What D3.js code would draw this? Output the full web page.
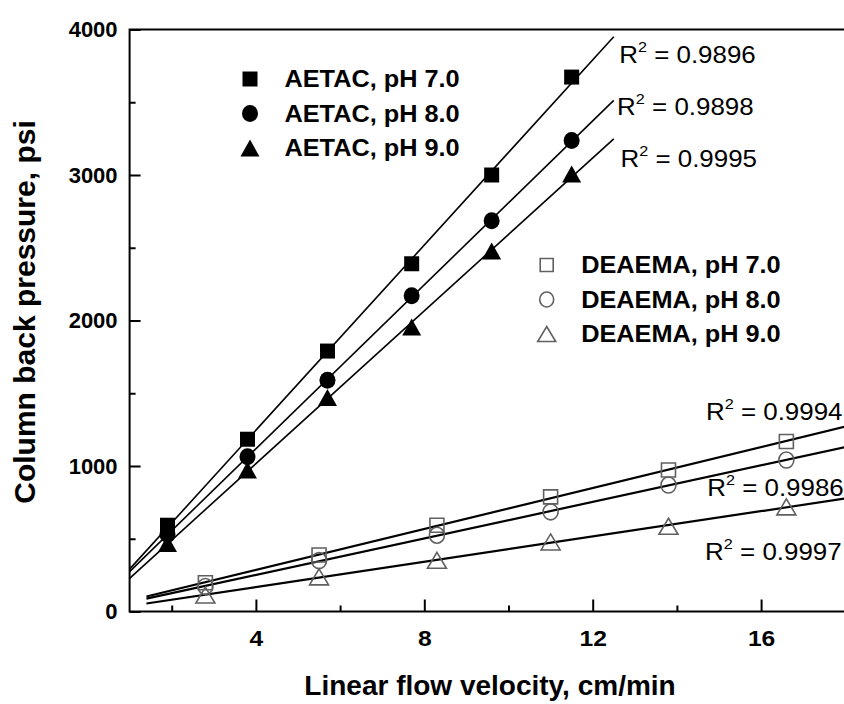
<!DOCTYPE html>
<html><head><meta charset="utf-8">
<script src="https://cdn.jsdelivr.net/npm/d3@7/dist/d3.min.js"></script>
<style>body{margin:0;background:#fff}svg{display:block}</style>
</head><body>
<svg id="chart" width="844" height="704"></svg>
<script>
// ---- data ----
const aetacX = [1.9, 3.8, 5.7, 7.7, 9.6, 11.5];
const deaemaX = [2.8, 5.5, 8.3, 11.0, 13.8, 16.6];
const aetacPH7 = [593, 1184, 1790, 2390, 3000, 3673];
const aetacPH8 = [530, 1064, 1590, 2170, 2685, 3237];
const aetacPH9 = [467, 972, 1470, 1955, 2478, 3007];
const deaemaPH7 = [198, 388, 593, 788, 972, 1168];
const deaemaPH8 = [172, 350, 524, 685, 869, 1041];
const deaemaPH9 = [113, 238, 352, 478, 586, 719];
const aetacNames = ["AETAC, pH 7.0", "AETAC, pH 8.0", "AETAC, pH 9.0"];
const deaemaNames = ["DEAEMA, pH 7.0", "DEAEMA, pH 8.0", "DEAEMA, pH 9.0"];
const r2Values = ["0.9896", "0.9898", "0.9995", "0.9994", "0.9986", "0.9997"];
const fitRangeAETAC = [1.0, 12.5];
const fitRangeDEAEMA = [1.4, 18.6];
const xTickValues = [4, 8, 12, 16];
const xMinorValues = [2, 6, 10, 14, 18];
const yTickValues = [0, 1000, 2000, 3000, 4000];
const yMinorValues = [500, 1500, 2500, 3500];
const xTitle = "Linear flow velocity, cm/min";
const yTitle = "Column back pressure, psi";
// R² label anchors, in data units (x start, baseline)
const r2AnchorX = [12.63, 12.58, 12.66, 14.69, 14.72, 14.67];
const r2AnchorY = [3768, 3412, 3057, 1316, 794, 354];

// ---- layout ----
const FONT = "'Liberation Sans', Arial, Helvetica, sans-serif";
const svg = d3.select("#chart");
svg.append("rect").attr("width", 844).attr("height", 704).attr("fill", "#fff");
const x = d3.scaleLinear().domain([1, 18]).range([129.6, 845.3]);
const y = d3.scaleLinear().domain([0, 4000]).range([611.5, 29.5]);

// frame
svg.append("rect")
  .attr("x", x(1)).attr("y", y(4000))
  .attr("width", x(18) - x(1)).attr("height", y(0) - y(4000))
  .attr("fill", "none").attr("stroke", "#000").attr("stroke-width", 2);

// axes
const yAxis = svg.append("g").attr("transform", `translate(${x(1)},0)`)
  .call(d3.axisLeft(y).tickValues(yTickValues).tickSize(-11).tickPadding(12).tickFormat(d3.format("d")));
const yMinor = svg.append("g").attr("transform", `translate(${x(1)},0)`)
  .call(d3.axisLeft(y).tickValues(yMinorValues).tickSize(-6).tickFormat(""));
const xAxis = svg.append("g").attr("transform", `translate(0,${y(0)})`)
  .call(d3.axisBottom(x).tickValues(xTickValues).tickSize(-12).tickPadding(19));
const xMinor = svg.append("g").attr("transform", `translate(0,${y(0)})`)
  .call(d3.axisBottom(x).tickValues(xMinorValues).tickSize(-6).tickFormat(""));
[yAxis, yMinor, xAxis, xMinor].forEach(g => {
  g.select(".domain").remove();
  g.selectAll(".tick line").attr("stroke", "#000").attr("stroke-width", 2);
});
yAxis.selectAll(".tick text").attr("font-family", FONT).attr("font-weight", "bold")
  .attr("font-size", 22).attr("fill", "#000");
xAxis.selectAll(".tick text").attr("font-family", FONT).attr("font-weight", "bold")
  .attr("font-size", 22).attr("fill", "#000").attr("transform", "scale(1.12,1)");

// titles
svg.append("text").attr("transform", "translate(490,695)")
  .attr("text-anchor", "middle").attr("font-family", FONT).attr("font-weight", "bold")
  .attr("font-size", 28).text(xTitle);
svg.append("text").attr("transform", "translate(35,312) rotate(-90)")
  .attr("text-anchor", "middle").attr("font-family", FONT).attr("font-weight", "bold")
  .attr("font-size", 30).text(yTitle);

// regression
function fit(xs, ys) {
  const mx = d3.mean(xs), my = d3.mean(ys);
  let sxy = 0, sxx = 0;
  xs.forEach((v, i) => { sxy += (v - mx) * (ys[i] - my); sxx += (v - mx) * (v - mx); });
  const b = sxy / sxx;
  return { slope: b, intercept: my - b * mx };
}

// markers
function shape(kind, w, h) {
  if (kind === "square") return `M${-w/2},${-h/2}H${w/2}V${h/2}H${-w/2}Z`;
  if (kind === "triangle") return `M0,${-h/2}L${w/2},${h/2}H${-w/2}Z`;
  const rx = w / 2, ry = h / 2;
  return `M${-rx},0A${rx},${ry} 0 1,0 ${rx},0A${rx},${ry} 0 1,0 ${-rx},0Z`;
}
const aetacSeries = [aetacPH7, aetacPH8, aetacPH9];
const deaemaSeries = [deaemaPH7, deaemaPH8, deaemaPH9];
const kinds = ["square", "circle", "triangle"];
const filledSize = { square: [15, 15], circle: [16, 17], triangle: [19, 17] };
const openSize = { square: [14, 14], circle: [15, 16], triangle: [19, 16] };
const openColor = "#606060";

const line = d3.line().x(d => x(d[0])).y(d => y(d[1]));
function drawFit(xs, ys, range, width) {
  const f = fit(xs, ys);
  svg.append("path")
    .attr("d", line(range.map(v => [v, f.intercept + f.slope * v])))
    .attr("fill", "none").attr("stroke", "#000").attr("stroke-width", width);
}
aetacSeries.forEach(s => drawFit(aetacX, s, fitRangeAETAC, 1.6));
deaemaSeries.forEach(s => drawFit(deaemaX, s, fitRangeDEAEMA, 2.2));

aetacSeries.forEach((s, i) => {
  const k = kinds[i], sz = filledSize[k];
  svg.append("g").selectAll("path").data(s).join("path")
    .attr("transform", (d, j) => `translate(${x(aetacX[j])},${y(d)})`)
    .attr("d", shape(k, sz[0], sz[1])).attr("fill", "#000");
});
deaemaSeries.forEach((s, i) => {
  const k = kinds[i], sz = openSize[k];
  svg.append("g").selectAll("path").data(s).join("path")
    .attr("transform", (d, j) => `translate(${x(deaemaX[j])},${y(d)})`)
    .attr("d", shape(k, sz[0], sz[1])).attr("fill", "none")
    .attr("stroke", openColor).attr("stroke-width", 1.6);
});

// R² labels
r2Values.forEach((v, i) => {
  const t = svg.append("text")
    .attr("transform", `translate(${x(r2AnchorX[i])},${y(r2AnchorY[i])}) scale(1.08,1)`)
    .attr("font-family", FONT).attr("font-size", 24).attr("fill", "#000");
  t.append("tspan").text("R");
  t.append("tspan").attr("font-size", 15).attr("dy", -11).text("2");
  t.append("tspan").attr("dy", 11).text(" = " + v);
});

// legends
function legend(names, x0, y0, filled) {
  names.forEach((n, i) => {
    const cy = y0 + i * 34.5, k = kinds[i];
    const sz = filled ? filledSize[k] : [openSize[k][0] - 1, openSize[k][1] - 1];
    svg.append("path").attr("transform", `translate(${x0},${cy})`)
      .attr("d", shape(k, sz[0], sz[1]))
      .attr("fill", filled ? "#000" : "none")
      .attr("stroke", filled ? "none" : openColor).attr("stroke-width", 1.6);
    svg.append("text").attr("transform", `translate(${x0 + 34.5},${cy + 8}) scale(1.1,1)`)
      .attr("font-family", FONT).attr("font-weight", "bold").attr("font-size", 23)
      .attr("fill", "#000").text(n);
  });
}
legend(aetacNames, 250, 79, true);
legend(deaemaNames, 546.7, 265, false);
</script>
</body></html>
